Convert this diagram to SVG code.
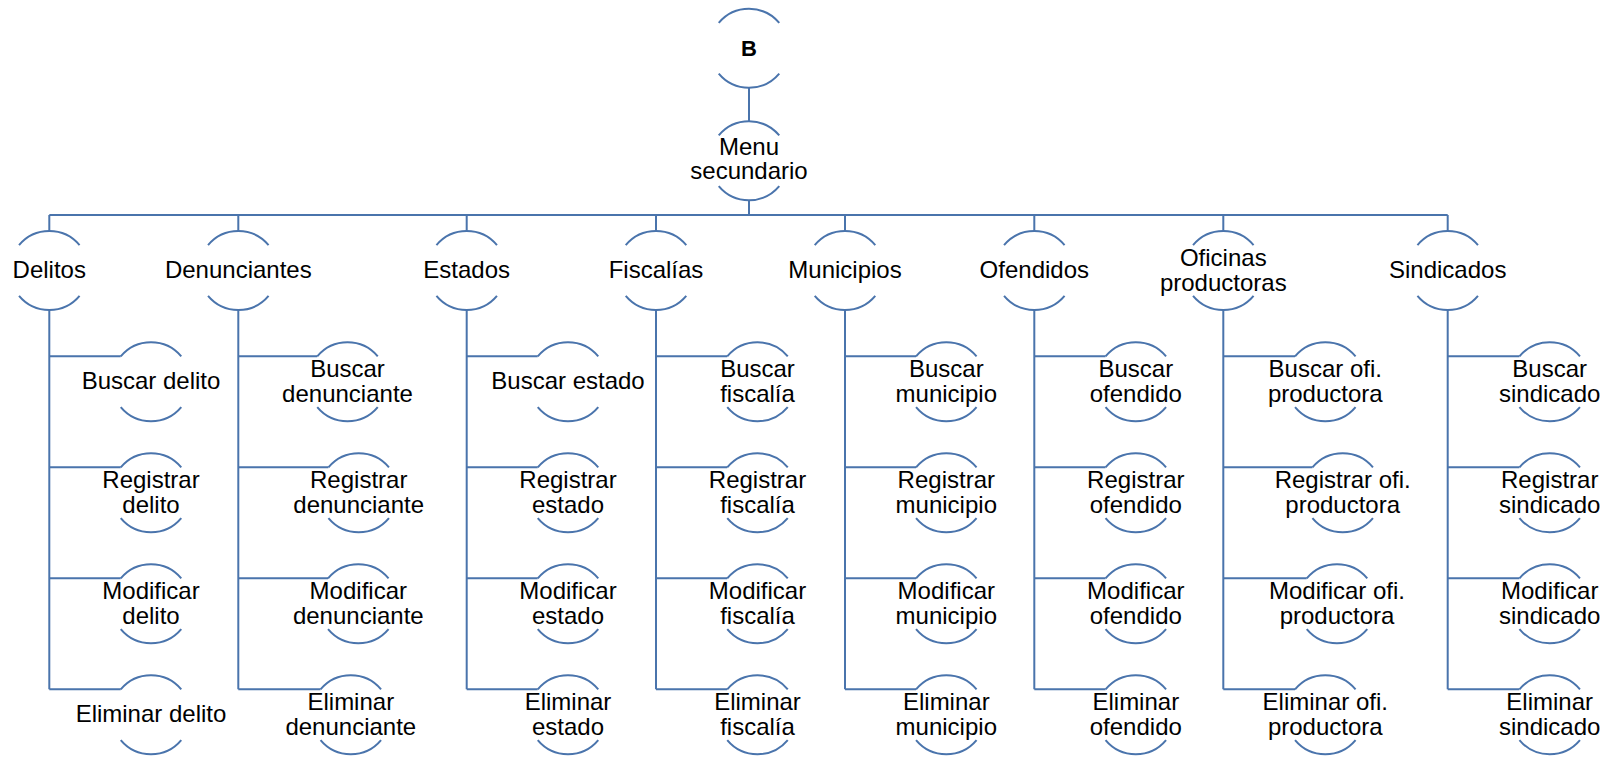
<svg xmlns="http://www.w3.org/2000/svg" width="1622" height="757" viewBox="0 0 1622 757">
<style>
.ln{fill:none;stroke:#4A74AC;stroke-width:2}
.arc{fill:none;stroke:#4A74AC;stroke-width:2}
text{font-family:"Liberation Sans",Arial,sans-serif;font-size:24px;fill:#000;text-anchor:middle}
.b{font-weight:bold;font-size:22px}
</style>
<defs>
<g id="ring">
<path class="arc" d="M-30.26 -25.39 A39.5 39.5 0 0 1 30.26 -25.39"/>
<path class="arc" d="M-30.26 25.39 A39.5 39.5 0 0 0 30.26 25.39"/>
</g>
</defs>
<rect width="1622" height="757" fill="#fff"/>
<g id="connectors" class="ln">
<path d="M749 87.8V121.3M749 200.3V215M49.3 215H1447.7"/>
<path d="M49.3 215V231M238.3 215V231M466.7 215V231M656 215V231M845 215V231M1034.3 215V231M1223.3 215V231M1447.7 215V231"/>
<path d="M49.3 310V689.3M238.3 310V689.3M466.7 310V689.3M656 310V689.3M845 310V689.3M1034.3 310V689.3M1223.3 310V689.3M1447.7 310V689.3"/>
<path d="M49.3 356.3H120.7M49.3 467.3H120.7M49.3 578.3H120.7M49.3 689.3H120.7"/>
<path d="M238.3 356.3H317.2M238.3 467.3H328.4M238.3 578.3H328M238.3 689.3H320.5"/>
<path d="M466.7 356.3H537.7M466.7 467.3H537.7M466.7 578.3H537.7M466.7 689.3H537.7"/>
<path d="M656 356.3H727.2M656 467.3H727.2M656 578.3H727.2M656 689.3H727.2"/>
<path d="M845 356.3H916M845 467.3H916M845 578.3H916M845 689.3H916"/>
<path d="M1034.3 356.3H1105.5M1034.3 467.3H1105.5M1034.3 578.3H1105.5M1034.3 689.3H1105.5"/>
<path d="M1223.3 356.3H1295M1223.3 467.3H1312.4M1223.3 578.3H1306.7M1223.3 689.3H1295"/>
<path d="M1447.7 356.3H1519.4M1447.7 467.3H1519.4M1447.7 578.3H1519.4M1447.7 689.3H1519.4"/>
</g>
<g id="node-b"><use href="#ring" x="749" y="48.3"/><text class="b" x="749" y="55.5">B</text></g>
<g id="node-menu"><use href="#ring" x="749" y="160.8"/><text><tspan x="749" y="154.6">Menu</tspan><tspan x="749" y="179">secundario</tspan></text></g>

<g id="node-delitos"><use href="#ring" x="49.3" y="270.5"/><text x="49.3" y="278">Delitos</text></g>
<g id="node-denunciantes"><use href="#ring" x="238.3" y="270.5"/><text x="238.3" y="278">Denunciantes</text></g>
<g id="node-estados"><use href="#ring" x="466.7" y="270.5"/><text x="466.7" y="278">Estados</text></g>
<g id="node-fiscalias"><use href="#ring" x="656" y="270.5"/><text x="656" y="278">Fiscalías</text></g>
<g id="node-municipios"><use href="#ring" x="845" y="270.5"/><text x="845" y="278">Municipios</text></g>
<g id="node-ofendidos"><use href="#ring" x="1034.3" y="270.5"/><text x="1034.3" y="278">Ofendidos</text></g>
<g id="node-oficinas"><use href="#ring" x="1223.3" y="270.5"/><text><tspan x="1223.3" y="266.2">Oficinas</tspan><tspan x="1223.3" y="290.6">productoras</tspan></text></g>
<g id="node-sindicados"><use href="#ring" x="1447.7" y="270.5"/><text x="1447.7" y="278">Sindicados</text></g>

<g id="node-buscar-delito"><use href="#ring" x="151" y="381.7"/><text x="151" y="389.2">Buscar delito</text></g>
<g id="node-registrar-delito"><use href="#ring" x="151" y="492.7"/><text><tspan x="151" y="488.4">Registrar</tspan><tspan x="151" y="512.8">delito</tspan></text></g>
<g id="node-modificar-delito"><use href="#ring" x="151" y="603.7"/><text><tspan x="151" y="599.4">Modificar</tspan><tspan x="151" y="623.8">delito</tspan></text></g>
<g id="node-eliminar-delito"><use href="#ring" x="151" y="714.7"/><text x="151" y="722.2">Eliminar delito</text></g>

<g id="node-buscar-denunciante"><use href="#ring" x="347.5" y="381.7"/><text><tspan x="347.5" y="377.4">Buscar</tspan><tspan x="347.5" y="401.8">denunciante</tspan></text></g>
<g id="node-registrar-denunciante"><use href="#ring" x="358.7" y="492.7"/><text><tspan x="358.7" y="488.4">Registrar</tspan><tspan x="358.7" y="512.8">denunciante</tspan></text></g>
<g id="node-modificar-denunciante"><use href="#ring" x="358.3" y="603.7"/><text><tspan x="358.3" y="599.4">Modificar</tspan><tspan x="358.3" y="623.8">denunciante</tspan></text></g>
<g id="node-eliminar-denunciante"><use href="#ring" x="350.8" y="714.7"/><text><tspan x="350.8" y="710.4">Eliminar</tspan><tspan x="350.8" y="734.8">denunciante</tspan></text></g>

<g id="node-buscar-estado"><use href="#ring" x="568" y="381.7"/><text x="568" y="389.2">Buscar estado</text></g>
<g id="node-registrar-estado"><use href="#ring" x="568" y="492.7"/><text><tspan x="568" y="488.4">Registrar</tspan><tspan x="568" y="512.8">estado</tspan></text></g>
<g id="node-modificar-estado"><use href="#ring" x="568" y="603.7"/><text><tspan x="568" y="599.4">Modificar</tspan><tspan x="568" y="623.8">estado</tspan></text></g>
<g id="node-eliminar-estado"><use href="#ring" x="568" y="714.7"/><text><tspan x="568" y="710.4">Eliminar</tspan><tspan x="568" y="734.8">estado</tspan></text></g>

<g id="node-buscar-fiscalia"><use href="#ring" x="757.5" y="381.7"/><text><tspan x="757.5" y="377.4">Buscar</tspan><tspan x="757.5" y="401.8">fiscalía</tspan></text></g>
<g id="node-registrar-fiscalia"><use href="#ring" x="757.5" y="492.7"/><text><tspan x="757.5" y="488.4">Registrar</tspan><tspan x="757.5" y="512.8">fiscalía</tspan></text></g>
<g id="node-modificar-fiscalia"><use href="#ring" x="757.5" y="603.7"/><text><tspan x="757.5" y="599.4">Modificar</tspan><tspan x="757.5" y="623.8">fiscalía</tspan></text></g>
<g id="node-eliminar-fiscalia"><use href="#ring" x="757.5" y="714.7"/><text><tspan x="757.5" y="710.4">Eliminar</tspan><tspan x="757.5" y="734.8">fiscalía</tspan></text></g>

<g id="node-buscar-municipio"><use href="#ring" x="946.3" y="381.7"/><text><tspan x="946.3" y="377.4">Buscar</tspan><tspan x="946.3" y="401.8">municipio</tspan></text></g>
<g id="node-registrar-municipio"><use href="#ring" x="946.3" y="492.7"/><text><tspan x="946.3" y="488.4">Registrar</tspan><tspan x="946.3" y="512.8">municipio</tspan></text></g>
<g id="node-modificar-municipio"><use href="#ring" x="946.3" y="603.7"/><text><tspan x="946.3" y="599.4">Modificar</tspan><tspan x="946.3" y="623.8">municipio</tspan></text></g>
<g id="node-eliminar-municipio"><use href="#ring" x="946.3" y="714.7"/><text><tspan x="946.3" y="710.4">Eliminar</tspan><tspan x="946.3" y="734.8">municipio</tspan></text></g>

<g id="node-buscar-ofendido"><use href="#ring" x="1135.8" y="381.7"/><text><tspan x="1135.8" y="377.4">Buscar</tspan><tspan x="1135.8" y="401.8">ofendido</tspan></text></g>
<g id="node-registrar-ofendido"><use href="#ring" x="1135.8" y="492.7"/><text><tspan x="1135.8" y="488.4">Registrar</tspan><tspan x="1135.8" y="512.8">ofendido</tspan></text></g>
<g id="node-modificar-ofendido"><use href="#ring" x="1135.8" y="603.7"/><text><tspan x="1135.8" y="599.4">Modificar</tspan><tspan x="1135.8" y="623.8">ofendido</tspan></text></g>
<g id="node-eliminar-ofendido"><use href="#ring" x="1135.8" y="714.7"/><text><tspan x="1135.8" y="710.4">Eliminar</tspan><tspan x="1135.8" y="734.8">ofendido</tspan></text></g>

<g id="node-buscar-oficina"><use href="#ring" x="1325.3" y="381.7"/><text><tspan x="1325.3" y="377.4">Buscar ofi.</tspan><tspan x="1325.3" y="401.8">productora</tspan></text></g>
<g id="node-registrar-oficina"><use href="#ring" x="1342.7" y="492.7"/><text><tspan x="1342.7" y="488.4">Registrar ofi.</tspan><tspan x="1342.7" y="512.8">productora</tspan></text></g>
<g id="node-modificar-oficina"><use href="#ring" x="1337" y="603.7"/><text><tspan x="1337" y="599.4">Modificar ofi.</tspan><tspan x="1337" y="623.8">productora</tspan></text></g>
<g id="node-eliminar-oficina"><use href="#ring" x="1325.3" y="714.7"/><text><tspan x="1325.3" y="710.4">Eliminar ofi.</tspan><tspan x="1325.3" y="734.8">productora</tspan></text></g>

<g id="node-buscar-sindicado"><use href="#ring" x="1549.7" y="381.7"/><text><tspan x="1549.7" y="377.4">Buscar</tspan><tspan x="1549.7" y="401.8">sindicado</tspan></text></g>
<g id="node-registrar-sindicado"><use href="#ring" x="1549.7" y="492.7"/><text><tspan x="1549.7" y="488.4">Registrar</tspan><tspan x="1549.7" y="512.8">sindicado</tspan></text></g>
<g id="node-modificar-sindicado"><use href="#ring" x="1549.7" y="603.7"/><text><tspan x="1549.7" y="599.4">Modificar</tspan><tspan x="1549.7" y="623.8">sindicado</tspan></text></g>
<g id="node-eliminar-sindicado"><use href="#ring" x="1549.7" y="714.7"/><text><tspan x="1549.7" y="710.4">Eliminar</tspan><tspan x="1549.7" y="734.8">sindicado</tspan></text></g>
</svg>
